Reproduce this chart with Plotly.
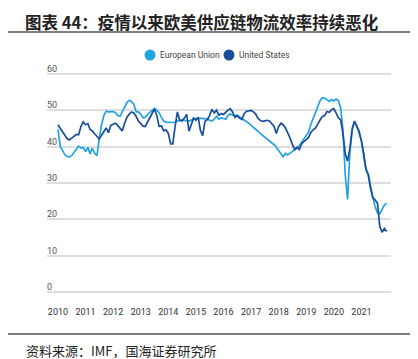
import plotly.graph_objects as go
import pandas as pd

# Monthly data, Jan 2010 - Dec 2021
dates = pd.date_range("2010-01-01", periods=144, freq="MS")

eu_values = [
    44.7, 40.0, 39.0, 37.8, 37.3, 37.2, 37.5, 38.5, 39.5, 40.1, 39.6, 39.8,   # 2010
    38.6, 39.8, 38.0, 39.5, 38.2, 37.5, 42.0, 46.0, 48.5, 49.7, 49.5, 49.5,   # 2011
    49.6, 49.3, 48.5, 48.3, 49.5, 50.5, 52.0, 52.7, 52.3, 51.6, 49.5, 49.5,   # 2012
    48.9, 47.9, 48.0, 48.8, 49.3, 50.0, 50.5, 50.0, 49.3, 48.0, 47.0, 46.7,   # 2013
    46.6, 46.5, 46.6, 46.7, 47.0, 47.2, 47.3, 47.2, 47.1, 47.0, 47.3, 47.6,   # 2014
    47.7, 47.8, 47.8, 47.8, 47.7, 47.6, 47.2, 47.0, 47.5, 48.3, 47.5, 47.9,   # 2015
    47.7, 47.5, 48.5, 49.0, 48.6, 48.4, 48.6, 48.2, 47.8, 47.4, 47.0, 46.4,   # 2016
    45.8, 45.3, 44.8, 44.2, 43.6, 43.1, 42.6, 42.1, 41.6, 41.0, 40.5, 39.8,   # 2017
    38.8, 37.8, 37.2, 38.1, 37.7, 38.2, 38.6, 39.1, 39.6, 40.2, 41.2, 42.0,   # 2018
    42.8, 44.0, 46.0, 47.5, 48.8, 50.8, 52.5, 53.4, 53.3, 52.8, 52.4, 52.9,   # 2019
    52.5, 53.0, 52.6, 50.5, 44.5, 32.0, 25.5, 38.5, 44.7, 46.8, 45.5, 43.6,   # 2020
    41.5, 37.0, 34.0, 32.5, 28.7, 26.0, 23.5, 21.8, 21.6, 22.8, 24.0, 24.4,   # 2021
]

us_values = [
    46.0, 45.0, 44.2, 43.2, 42.2, 41.8, 42.2, 42.8, 43.3, 43.2, 45.5, 46.8,   # 2010
    46.0, 46.3, 44.7, 44.3, 43.5, 42.9, 42.1, 43.1, 44.3, 45.1, 43.8, 45.8,   # 2011
    46.1, 46.4, 45.8, 45.0, 44.3, 46.3, 48.0, 48.9, 49.5, 49.2, 48.3, 47.0,   # 2012
    46.2, 45.6, 45.5, 46.8, 48.0, 49.3, 50.3, 48.6, 45.5, 45.7, 44.3, 44.6,   # 2013
    43.6, 40.7, 40.7, 45.5, 49.5, 47.2, 47.0, 47.8, 48.8, 44.2, 46.0, 47.8,   # 2014
    47.2, 48.0, 44.5, 43.0, 46.9, 47.4, 48.5, 50.2, 49.2, 50.0, 48.6, 49.0,   # 2015
    48.8, 49.5, 50.0, 50.4, 49.5, 48.0, 48.5, 47.8, 47.4, 49.0, 49.7, 49.8,   # 2016
    49.9, 49.5, 49.0, 47.8, 47.2, 46.9, 47.0, 47.2, 47.0, 46.4, 45.5, 43.6,   # 2017
    45.5, 46.4, 46.0, 45.1, 43.8, 42.3, 40.6, 39.2, 39.8, 39.2, 40.8, 41.3,   # 2018
    42.0, 42.5, 43.8, 44.6, 45.0, 46.3, 47.2, 48.2, 48.5, 49.6, 49.4, 50.1,   # 2019
    50.4, 49.2, 47.9, 47.3, 43.5, 38.0, 36.0, 39.5, 45.0, 47.0, 45.5, 44.2,   # 2020
    41.5, 38.0, 33.7, 32.2, 28.5, 26.0, 25.3, 24.5, 18.0, 16.5, 17.5, 16.7,   # 2021
]

series_names = ["European Union", "United States"]
years = list(range(2010, 2022))
tick_vals = [f"{y}-01-01" for y in years]
tick_text = [str(y) for y in years]
y_ticks = [0, 10, 20, 30, 40, 50, 60]

EU_COLOR = "#22A3E2"
US_COLOR = "#1A4E9B"

# layout helpers (pixel -> paper)
L, R, T, B = 39, 35, 62, 71
PW, PH = 418 - L - R, 359 - T - B
def px(x):
    return (x - L) / PW
def py(y):
    return (359 - B - y) / PH

fig = go.Figure()
fig.add_trace(go.Scatter(x=dates, y=eu_values, mode="lines", name=series_names[0],
                         line=dict(color=EU_COLOR, width=1.7), showlegend=False))
fig.add_trace(go.Scatter(x=dates, y=us_values, mode="lines", name=series_names[1],
                         line=dict(color=US_COLOR, width=1.7), showlegend=False))

shapes = [
    dict(type="line", xref="paper", yref="paper", x0=px(0), x1=px(409),
         y0=py(24), y1=py(24), line=dict(color="#555", width=1.5)),
    dict(type="line", xref="paper", yref="paper", x0=px(0), x1=px(409),
         y0=py(326), y1=py(326), line=dict(color="#555", width=1.5)),
]
annotations = [
    dict(text="<b>图表 44：疫情以来欧美供应链物流效率持续恶化</b>", xref="paper", yref="paper",
         x=px(15), y=py(14), xanchor="left", yanchor="middle", showarrow=False,
         font=dict(family="Noto Sans CJK SC", size=16.5, color="#222")),
    dict(text="资料来源：IMF，国海证券研究所", xref="paper", yref="paper",
         x=px(16), y=py(342), xanchor="left", yanchor="middle", showarrow=False,
         font=dict(family="Noto Sans CJK SC", size=13, color="#222")),
]
# legend (circle + label)
for name, color, cx in [(series_names[0], EU_COLOR, 142), (series_names[1], US_COLOR, 221)]:
    shapes.append(dict(type="circle", xref="paper", yref="paper",
                       xsizemode="pixel", ysizemode="pixel",
                       xanchor=px(cx), yanchor=py(47),
                       x0=-5.5, x1=5.5, y0=-5.5, y1=5.5,
                       fillcolor=color, line=dict(width=0)))
    annotations.append(dict(text=name, xref="paper", yref="paper", x=px(cx + 8),
                            y=py(47), xanchor="left", yanchor="middle", showarrow=False,
                            font=dict(family="Roboto", size=8.5, color="#444")))
# y tick labels sitting above gridlines
for v in y_ticks:
    annotations.append(dict(text=str(v), xref="paper", yref="y", x=0, y=v,
                            xanchor="left", yanchor="bottom", showarrow=False,
                            yshift=-2, xshift=-2,
                            font=dict(family="Roboto", size=9, color="#555")))

fig.update_layout(
    width=418, height=359,
    margin=dict(l=L, r=R, t=T, b=B),
    paper_bgcolor="white", plot_bgcolor="white",
    font=dict(family="Roboto, Open Sans, sans-serif", color="#444"),
    showlegend=False,
    xaxis=dict(type="date", range=["2009-08-09", "2022-01-27"],
               tickvals=tick_vals, ticktext=tick_text, showgrid=False,
               zeroline=False, showline=False, ticks="",
               tickfont=dict(family="Roboto", size=9, color="#333"), ticklabelstandoff=9),
    yaxis=dict(range=[-1, 61], tickvals=y_ticks, showgrid=True,
               gridcolor="#DDDDDD", gridwidth=1.5, zeroline=False, showline=False,
               ticks="", showticklabels=False),
    shapes=shapes,
    annotations=annotations,
)

fig.write_html("out.html")
